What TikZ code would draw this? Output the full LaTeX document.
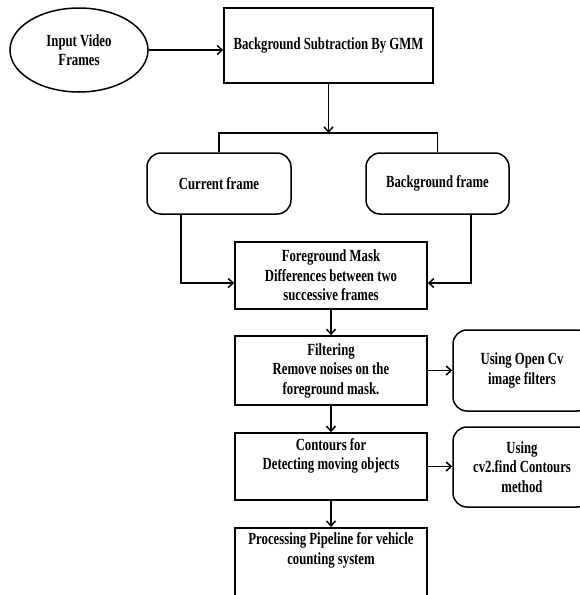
\documentclass[tikz,border=0pt]{standalone}
\usepackage{fontspec}
\setmainfont[FakeStretch=0.75]{Liberation Serif}
\usetikzlibrary{arrows.meta,shapes.geometric}
\begin{document}
\begin{tikzpicture}[x=1pt,y=-1pt, line width=1.5pt,
  every node/.style={font=\bfseries\fontsize{17}{19.5}\selectfont, align=center, inner sep=0pt},
  box/.style={draw, rectangle, minimum width=192pt},
  rbox/.style={draw, rectangle, rounded corners=14pt},
  arr/.style={-{Straight Barb[length=5pt,width=9pt]}}]
\useasboundingbox (0,0) rectangle (580,595);
\clip (0,0) rectangle (580,595);
\node[draw, ellipse, minimum width=138pt, minimum height=84pt] (in) at (79,50) {Input Video\\Frames};
\node[draw, minimum width=209pt, minimum height=75pt] (gmm) at (328.5,45.5) {Background Subtraction By GMM};
\node[rbox, minimum width=144pt, minimum height=61pt] (cur) at (219,183.5) {Current frame};
\node[rbox, minimum width=143pt, minimum height=61pt] (bgf) at (437.5,183.5) {Background frame};
\node[box, minimum height=67pt] (fg) at (331,275.5) {Foreground Mask\\Differences between two\\successive frames};
\node[box, minimum height=69pt] (filt) at (331,370.5) {Filtering\\Remove noises on the\\foreground mask.};
\node[rbox, minimum width=138pt, minimum height=81pt] (ocv) at (522,370.5) {Using Open Cv\\image filters};
\node[box, minimum height=67pt] (cont) at (331,466.5) {Contours for\\Detecting moving objects\\ \strut};
\node[rbox, minimum width=138pt, minimum height=80pt] (cv) at (522,467) {Using\\cv2.find Contours\\method};
\node[box, minimum height=110pt, anchor=north] (proc) at (331,527) {};
\node[anchor=north] (proct) at (331,532) {Processing Pipeline for vehicle\\counting system};
\coordinate (bar) at (328,133);
\draw[arr] (in.east) -- (in.east -| gmm.west);
\draw[arr] (gmm.south) -- (gmm.south |- bar);
\draw (cur.north) -- (cur.north |- bar) -- (bar -| bgf.north) -- (bgf.north);
\draw[arr] ([xshift=-38pt]cur.south) |- ([yshift=-7.5pt]fg.west);
\draw[arr] ([xshift=33.5pt]bgf.south) |- ([yshift=-7.5pt]fg.east);
\draw[arr] (fg) -- (filt);
\draw[arr] (filt) -- (cont);
\draw[arr] (cont) -- (proc);
\draw[arr] (filt.east) -- (filt.east -| ocv.west);
\draw[arr] (cont.east) -- (cont.east -| cv.west);
\end{tikzpicture}
\end{document}
